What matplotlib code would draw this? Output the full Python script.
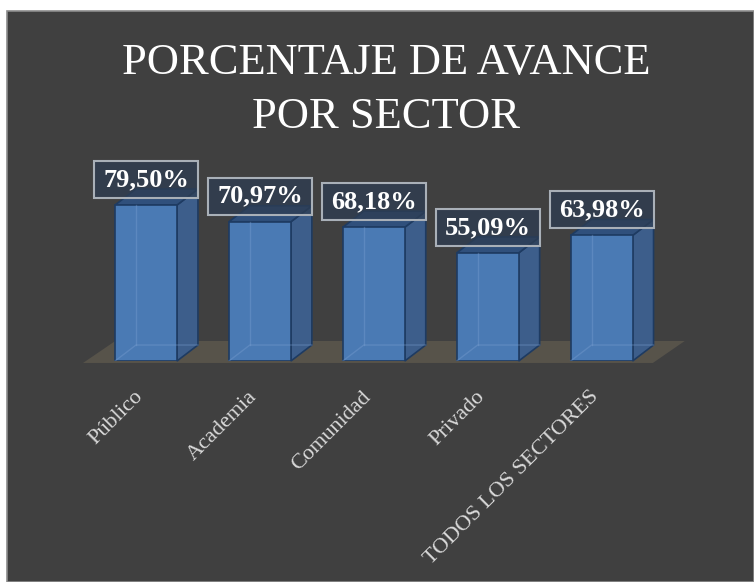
import matplotlib.pyplot as plt
from matplotlib.patches import Rectangle, Polygon
from matplotlib.transforms import ScaledTranslation

# datos del grafico
sectores = ['Público', 'Academia', 'Comunidad', 'Privado', 'TODOS LOS SECTORES']
avance = [79.50, 70.97, 68.18, 55.09, 63.98]
etiquetas = ['79,50%', '70,97%', '68,18%', '55,09%', '63,98%']

fondo = '#404040'
frente = '#4a7ab4'
lado = '#3d5e8b'
techo = '#30507c'
borde = '#1e3b62'

fig = plt.figure(figsize=(7.54, 5.82), dpi=100)
fig.patch.set_facecolor('white')

# panel oscuro del grafico
panel = Rectangle((7 / 754, 0), 747 / 754, 571 / 582, transform=fig.transFigure,
                  facecolor=fondo, edgecolor='#8c8c8c', linewidth=1.2, zorder=-10)
fig.add_artist(panel)

ax = fig.add_axes([0, 221 / 582, 1, 196.2 / 582])
ax.set_facecolor('none')
ax.set_xlim(-1.282, 5.338)
ax.set_ylim(0, 100)
for s in ax.spines.values():
    s.set_visible(False)
ax.set_yticks([])

# profundidad del efecto 3D (en unidades de datos)
w = 0.544
dx = 0.184
dy = 8.15

# piso
n = len(avance)
piso = Polygon([(-0.553, -1), (n - 0.55, -1), (n - 0.27, 10.2), (-0.27, 10.2)],
               closed=True, facecolor='#57534a', edgecolor='none', zorder=1, clip_on=False)
ax.add_patch(piso)

ax.bar(range(n), avance, width=w, color=frente, edgecolor=borde, linewidth=1.2, zorder=3)

for i, v in enumerate(avance):
    x0 = i - w / 2
    x1 = i + w / 2
    # cara lateral
    ax.add_patch(Polygon([(x1, 0), (x1 + dx, dy), (x1 + dx, v + dy), (x1, v)], closed=True,
                         facecolor=lado, edgecolor=borde, linewidth=1.2, zorder=2, clip_on=False))
    # cara superior
    ax.add_patch(Polygon([(x0, v), (x1, v), (x1 + dx, v + dy), (x0 + dx, v + dy)], closed=True,
                         facecolor=techo, edgecolor=borde, linewidth=1.2, zorder=2, clip_on=False))
    # aristas traseras vistas a traves del frente
    ax.plot([x0, x0 + dx, x1 + dx], [0, dy, dy], color='#7fa3d4', alpha=0.35, lw=1, zorder=4)
    ax.plot([x0 + dx, x0 + dx], [dy, v], color='#7fa3d4', alpha=0.35, lw=1, zorder=4)

    # etiqueta con recuadro
    ax.add_patch(Rectangle((i - 0.456, v + 3.6), 0.913, 18.9, facecolor='#2e3d52', alpha=0.75,
                           edgecolor='none', zorder=5, clip_on=False))
    ax.add_patch(Rectangle((i - 0.456, v + 3.6), 0.913, 18.9, facecolor='none',
                           edgecolor='#a9b0b8', linewidth=1.5, zorder=6, clip_on=False))
    ax.text(i, v + 13, etiquetas[i], ha='center', va='center', color='white', fontsize=19,
            fontweight='bold', family='Liberation Serif', zorder=7)

ax.set_xticks(range(n))
ax.set_xticklabels(sectores, rotation=45, ha='right', rotation_mode='anchor',
                   family='Liberation Serif', fontsize=16, color='#d9d9d9')
ax.tick_params(axis='x', length=0, pad=19)
desplazar = ScaledTranslation(-12 / 100, 0, fig.dpi_scale_trans)
for lab in ax.get_xticklabels():
    lab.set_transform(lab.get_transform() + desplazar)

fig.text(0.512, 0.8456, 'PORCENTAJE DE AVANCE\nPOR SECTOR', ha='center', va='center',
         color='white', fontsize=32, family='Liberation Serif', linespacing=1.45)

fig.savefig('out.png', dpi=100, facecolor='white')
